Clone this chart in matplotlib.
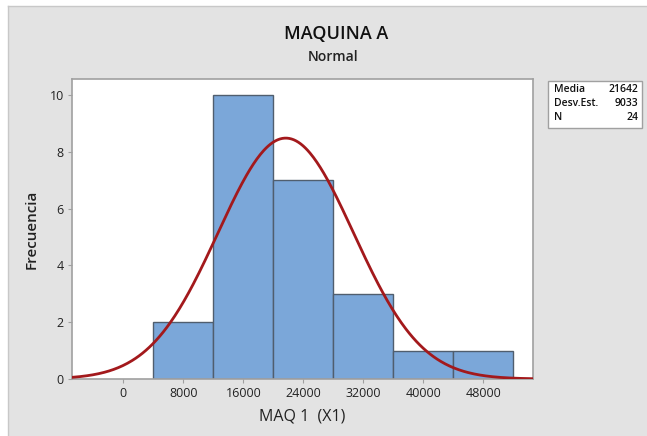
import numpy as np
import matplotlib.pyplot as plt
from matplotlib.patches import Rectangle

plt.rcParams["font.family"] = ["Open Sans", "DejaVu Sans"]

# Datos del histograma
bin_edges = [4000, 12000, 20000, 28000, 36000, 44000, 52000]
counts = [2, 10, 7, 3, 1, 1]

media = 21642
desv = 9033
n = 24

x_ticks = [0, 8000, 16000, 24000, 32000, 40000, 48000]
y_ticks = [0, 2, 4, 6, 8, 10]

fig = plt.figure(figsize=(6.47, 4.36), dpi=100, facecolor="#e3e3e3")

# margen blanco arriba / izquierda con borde fino
fig.patches.append(Rectangle((0, 1 - 6 / 436), 1, 6 / 436, transform=fig.transFigure,
                             facecolor="white", edgecolor="none", zorder=0))
fig.patches.append(Rectangle((0, 0), 8 / 647, 1, transform=fig.transFigure,
                             facecolor="white", edgecolor="none", zorder=0))
fig.add_artist(plt.Line2D([8 / 647, 1], [1 - 6 / 436, 1 - 6 / 436], transform=fig.transFigure,
                          color="#c8c8c8", lw=1))
fig.add_artist(plt.Line2D([8 / 647, 8 / 647], [0, 1 - 6 / 436], transform=fig.transFigure,
                          color="#c8c8c8", lw=1))

ax = fig.add_axes([72 / 647, 1 - 379 / 436, (533 - 72) / 647, (379 - 79) / 436])
ax.set_facecolor("white")

widths = np.diff(bin_edges)
ax.bar(bin_edges[:-1], counts, width=widths, align="edge",
       color="#7ba7d9", edgecolor="#505e6e", linewidth=1.0, zorder=2)

# Curva normal ajustada
xlim = (-6850, 54600)
xs = np.linspace(xlim[0], xlim[1], 400)
bw = bin_edges[1] - bin_edges[0]
ys = n * bw / (desv * np.sqrt(2 * np.pi)) * np.exp(-0.5 * ((xs - media) / desv) ** 2)
ax.plot(xs, ys, color="#a3191c", lw=2, zorder=3)

ax.set_xlim(xlim)
ax.set_ylim(0, 10.56)
ax.set_xticks(x_ticks)
ax.set_xticklabels([str(t) for t in x_ticks])
ax.set_yticks(y_ticks)
ax.tick_params(axis="both", length=3, color="#a0a0a0", labelsize=9, labelcolor="#222222", pad=3)
for s in ax.spines.values():
    s.set_color("#a0a0a0")
    s.set_linewidth(1.2)

ax.set_xlabel("MAQ 1  (X1)", fontsize=11.5, color="#222222", labelpad=6)
ax.set_ylabel("Frecuencia", fontsize=11, fontweight="semibold", color="#222222", labelpad=8)

fig.text(336 / 647, 1 - 34 / 436, "MAQUINA A", ha="center", va="center",
         fontsize=13, fontweight="semibold", color="#111111")
fig.text(333 / 647, 1 - 57 / 436, "Normal", ha="center", va="center",
         fontsize=10, fontweight="semibold", color="#222222")

# Cuadro de estadísticas
fig.patches.append(Rectangle((548 / 647, 1 - 128 / 436), 94 / 647, 47 / 436,
                             transform=fig.transFigure, facecolor="white",
                             edgecolor="#a0a0a0", lw=1, zorder=1))
etiquetas = ["Media", "Desv.Est.", "N"]
valores = [str(media), str(desv), str(n)]
for i, (lab, val) in enumerate(zip(etiquetas, valores)):
    y = 1 - (89 + i * 14) / 436
    fig.text(554 / 647, y, lab, ha="left", va="center", fontsize=7.5,
             fontweight="semibold", color="#111111")
    fig.text(638 / 647, y, val, ha="right", va="center", fontsize=7.5,
             fontweight="semibold", color="#111111")

fig.savefig("out.png", dpi=100, facecolor=fig.get_facecolor())
